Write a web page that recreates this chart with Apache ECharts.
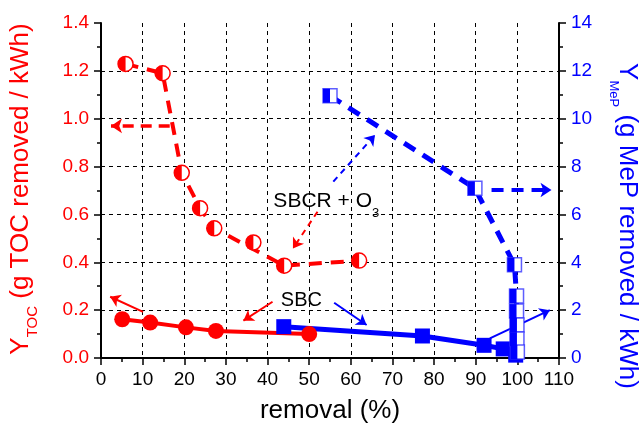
<!DOCTYPE html>
<html>
<head>
<meta charset="utf-8">
<script src="https://cdn.jsdelivr.net/npm/echarts@6/dist/echarts.min.js"></script>
<style>
  html, body { margin: 0; padding: 0; background: #fff; }
  #chart { width: 641px; height: 425px; }
</style>
</head>
<body>
<div id="chart"></div>
<script>
// ---- data: removal (%) vs. energy yield ----
// SBC, TOC yield (left axis)
const sbcTocRemoval = [5.1, 11.8, 20.4, 27.6, 50.0];
const sbcTocYield   = [0.162, 0.148, 0.128, 0.113, 0.100];
// SBC, MeP yield (right axis)
const sbcMepRemoval = [43.9, 77.2, 92.0, 96.6, 99.6];
const sbcMepYield   = [1.31, 0.92, 0.53, 0.38, 0.12];
// SBCR + O3, TOC yield (left axis)
const ozTocRemoval = [5.9, 14.8, 19.4, 23.8, 27.2, 36.6, 44.0, 62.0];
const ozTocYield   = [1.229, 1.19, 0.774, 0.626, 0.542, 0.483, 0.386, 0.407];
// points joined by the dashed TOC line
const ozTocLinePoints = [0, 1, 2, 3, 4, 6, 7];
// SBCR + O3, MeP yield (right axis)
const ozMepRemoval = [55.0, 89.8, 99.3, 99.8, 99.8, 99.9, 99.9, 100.0];
const ozMepYield   = [10.96, 7.09, 3.9, 2.59, 1.96, 1.38, 0.79, 0.25];

// axis ranges [min, max, step]
const removalAxis = [0, 110, 10];
const tocAxis = [0, 1.4, 0.2];
const mepAxis = [0, 14, 2];

const RED = '#ff0000';
const BLUE = '#0000ff';
const FONT = '"Liberation Sans", Arial, sans-serif';

const pairs = (xs, ys) => xs.map((x, i) => [x, ys[i]]);
const HALF_CIRCLE = 'path://M10,0 A10,10 0 0 0 10,20 Z';

function axisCommon(color) {
  return {
    axisLine: { show: true, onZero: false, lineStyle: { color: '#000', width: 2 } },
    axisTick: { show: true, inside: false, length: 7, lineStyle: { color: '#000', width: 1.5 } },
    minorTick: { show: true, splitNumber: 2, length: 4, lineStyle: { color: '#000', width: 1.5 } },
    axisLabel: { color: color, fontFamily: FONT, fontSize: 19, margin: 12 }
  };
}

const chart = echarts.init(document.getElementById('chart'), null, { renderer: 'canvas' });

const arrowRed = [
  // SBC -> left axis
  [{ coord: [10.1, 0.193], lineStyle: { type: 'solid', width: 2 } }, { coord: [2.2, 0.256], symbolSize: 10 }],
  // SBC label -> red curve
  [{ coord: [41.2, 0.235], lineStyle: { type: 'solid', width: 2 } }, { coord: [34.2, 0.156], symbolSize: 10 }],
  // SBCR + O3 -> left axis
  [{ coord: [16.5, 0.97], lineStyle: { type: [11, 7], width: 3.5 } }, { coord: [2.4, 0.97], symbolSize: 11 }],
  // SBCR + O3 label -> red curve
  [{ coord: [52.0, 0.611], lineStyle: { type: [6, 5], width: 2 } }, { coord: [46.1, 0.458], symbolSize: 10 }]
];
const arrowBlue = [
  // SBC label -> blue curve
  [{ coord: [56.0, 2.31], lineStyle: { type: 'solid', width: 2 } }, { coord: [63.8, 1.38], symbolSize: 10 }],
  // SBC -> right axis
  [{ coord: [93.4, 0.82], lineStyle: { type: 'solid', width: 2 } }, { coord: [107.8, 2.0], symbolSize: 10 }],
  // SBCR + O3 -> right axis
  [{ coord: [93.8, 7.02], lineStyle: { type: [12, 8], width: 4 } }, { coord: [108.2, 7.02], symbolSize: 11 }],
  // SBCR + O3 label -> blue curve
  [{ coord: [55.8, 7.37], lineStyle: { type: [6, 5], width: 2 } }, { coord: [65.8, 9.32], symbolSize: 10 }]
];

function arrows(color, data) {
  return {
    silent: true,
    animation: false,
    symbol: ['none', 'arrow'],
    label: { show: false },
    emphasis: { disabled: true },
    lineStyle: { color: color, opacity: 1 },
    itemStyle: { color: color },
    data: data
  };
}

const option = {
  animation: false,
  backgroundColor: '#fff',
  grid: { left: 101, right: 82, top: 23, bottom: 67 },
  xAxis: Object.assign({
    type: 'value',
    min: removalAxis[0], max: removalAxis[1], interval: removalAxis[2],
    splitLine: { show: true, showMinLine: false, showMaxLine: false,
      lineStyle: { color: '#000', width: 1, type: [4, 4] } }
  }, axisCommon('#000')),
  yAxis: [
    Object.assign({
      type: 'value', position: 'left',
      min: tocAxis[0], max: tocAxis[1], interval: tocAxis[2],
      splitLine: { show: true, showMinLine: false, showMaxLine: false,
        lineStyle: { color: '#000', width: 1, type: [4, 4] } }
    }, axisCommon(RED), {
      axisLabel: { color: RED, fontFamily: FONT, fontSize: 19, margin: 12,
        formatter: v => v.toFixed(1) }
    }),
    Object.assign({
      type: 'value', position: 'right',
      min: mepAxis[0], max: mepAxis[1], interval: mepAxis[2],
      splitLine: { show: false }
    }, axisCommon(BLUE))
  ],
  series: [
    // ---- lines ----
    {
      name: 'SBC TOC line', type: 'line', yAxisIndex: 0, z: 2,
      data: pairs(sbcTocRemoval, sbcTocYield), showSymbol: false, symbol: 'none',
      lineStyle: { color: RED, width: 4 },
      markLine: arrows(RED, arrowRed)
    },
    {
      name: 'SBCR TOC line', type: 'line', yAxisIndex: 0, z: 2,
      data: ozTocLinePoints.map(i => [ozTocRemoval[i], ozTocYield[i]]),
      showSymbol: false, symbol: 'none',
      lineStyle: { color: RED, width: 4, type: [13, 9] }
    },
    {
      name: 'SBC MeP line', type: 'line', yAxisIndex: 1, z: 2,
      data: pairs(sbcMepRemoval, sbcMepYield), showSymbol: false, symbol: 'none',
      lineStyle: { color: BLUE, width: 5 },
      markLine: arrows(BLUE, arrowBlue)
    },
    {
      name: 'SBCR MeP line', type: 'line', yAxisIndex: 1, z: 2,
      data: pairs(ozMepRemoval, ozMepYield), showSymbol: false, symbol: 'none',
      lineStyle: { color: BLUE, width: 5, type: [13, 9] }
    },
    // ---- markers ----
    {
      type: 'scatter', yAxisIndex: 0, z: 5, symbol: 'circle', symbolSize: 16,
      data: pairs(sbcTocRemoval, sbcTocYield),
      itemStyle: { color: RED, opacity: 1 }
    },
    {
      type: 'scatter', yAxisIndex: 1, z: 5, symbol: 'rect', symbolSize: 15,
      data: pairs(sbcMepRemoval, sbcMepYield),
      itemStyle: { color: BLUE, opacity: 1 }
    },
    {
      type: 'scatter', yAxisIndex: 0, z: 5, symbol: 'circle', symbolSize: 15,
      data: pairs(ozTocRemoval, ozTocYield),
      itemStyle: { color: '#fff', borderColor: RED, borderWidth: 1.5, opacity: 1 }
    },
    {
      type: 'scatter', yAxisIndex: 0, z: 6, symbol: HALF_CIRCLE, symbolSize: [7.5, 15],
      symbolOffset: [-3.75, 0],
      data: pairs(ozTocRemoval, ozTocYield),
      itemStyle: { color: RED, opacity: 1 }
    },
    {
      type: 'scatter', yAxisIndex: 1, z: 5, symbol: 'rect', symbolSize: 14,
      data: pairs(ozMepRemoval, ozMepYield),
      itemStyle: { color: '#fff', borderColor: 'rgba(40,40,255,0.75)', borderWidth: 1.5, opacity: 1 }
    },
    {
      type: 'scatter', yAxisIndex: 1, z: 6, symbol: 'rect', symbolSize: [7, 14],
      symbolOffset: [-3.5, 0],
      data: pairs(ozMepRemoval, ozMepYield),
      itemStyle: { color: BLUE, opacity: 1 }
    }
  ]
};

chart.setOption(option);

// ---- titles and annotations ----
const px = (x, y) => chart.convertToPixel({ xAxisIndex: 0, yAxisIndex: 0 }, [x, y]);
const sbcLabel = px(43.2, 0.284);
const ozLabel = px(41.4, 0.70);

chart.setOption({
  graphic: [
    {
      type: 'text', x: 8, y: 189, rotation: Math.PI / 2, silent: true,
      style: {
        text: '{m|Y}{s|TOC}{m| (g TOC removed / kWh)}',
        align: 'center', verticalAlign: 'top', fill: RED,
        rich: {
          m: { fontFamily: FONT, fontSize: 26, fill: RED, verticalAlign: 'top' },
          s: { fontFamily: FONT, fontSize: 15, fill: RED, verticalAlign: 'top', padding: [17, 0, 0, 0] }
        }
      }
    },
    {
      type: 'text', x: 640, y: 226, rotation: -Math.PI / 2, silent: true,
      style: {
        text: '{m|Y}{s|MeP}{m| (g MeP removed / kWh)}',
        align: 'center', verticalAlign: 'top', fill: BLUE,
        rich: {
          m: { fontFamily: FONT, fontSize: 26, fill: BLUE, verticalAlign: 'top' },
          s: { fontFamily: FONT, fontSize: 13, fill: BLUE, verticalAlign: 'top', padding: [20, 0, 0, 0] }
        }
      }
    },
    {
      type: 'text', x: 330, y: 411, silent: true,
      style: { text: 'removal (%)', fontFamily: FONT, fontSize: 26, fill: '#000',
        align: 'center', verticalAlign: 'middle' }
    },
    {
      type: 'text', x: sbcLabel[0], y: sbcLabel[1], silent: true,
      style: { text: 'SBC', fontFamily: FONT, fontSize: 20, fill: '#000',
        align: 'left', verticalAlign: 'top' }
    },
    {
      type: 'text', x: ozLabel[0], y: ozLabel[1], silent: true,
      style: {
        text: '{t|SBCR + O}{s|3}', align: 'left', verticalAlign: 'top', fill: '#000',
        rich: {
          t: { fontFamily: FONT, fontSize: 21, fill: '#000', verticalAlign: 'top' },
          s: { fontFamily: FONT, fontSize: 13, fill: '#000', verticalAlign: 'top', padding: [16, 0, 0, 0] }
        }
      }
    }
  ]
});
</script>
</body>
</html>
